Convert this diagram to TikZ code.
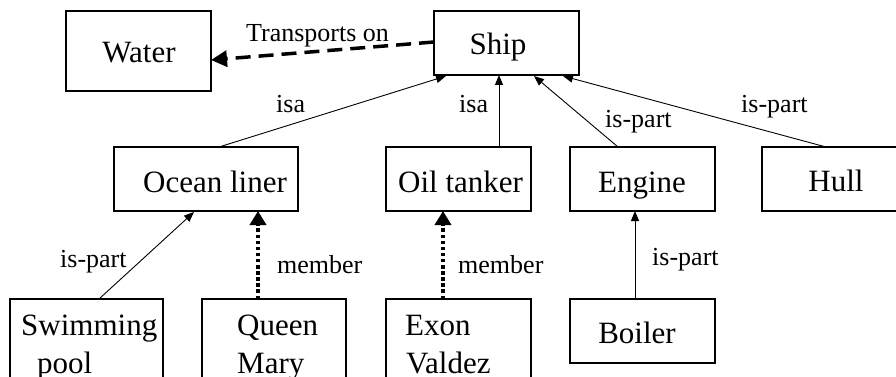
\documentclass[tikz,border=0pt]{standalone}
\usepackage{fontspec}
\setmainfont{Liberation Serif}
\usetikzlibrary{arrows.meta}
\tikzset{
  box/.style={draw, line width=1.2pt, rectangle, inner sep=0pt, outer sep=0pt, minimum width=145pt, minimum height=64pt},
  big/.style={inner sep=0pt, anchor=base west, font=\fontsize{31}{37}\selectfont},
  bigc/.style={inner sep=0pt, anchor=base, font=\fontsize{31}{37}\selectfont},
  lbl/.style={inner sep=0pt, anchor=base west, font=\fontsize{26}{30}\selectfont},
  thinarrow/.style={line width=0.9pt, -{Triangle[length=10pt,width=8pt]}},
  dotarrow/.style={line width=3.5pt, dash pattern=on 3.5pt off 2.6pt, -{Triangle[length=14pt,width=16pt]}},
  dasharrow/.style={line width=3.5pt, dash pattern=on 15pt off 8pt, -{Triangle[length=16pt,width=16pt]}}
}
\begin{document}
\begin{tikzpicture}[x=1pt,y=-1pt]
\useasboundingbox (0,0) rectangle (896,377);
\clip (0,0) rectangle (896,377);
% boxes
\node[box, minimum height=80pt] (water) at (138.5,51) {};
\node[box] (ship) at (506.5,43) {};
\node[box, minimum width=184pt] (ocean) at (206,179) {};
\node[box] (oil) at (458.5,179) {};
\node[box] (engine) at (642.5,179) {};
\node[box] (hull) at (834.5,179) {};
\node[box, minimum width=153pt, minimum height=100pt] (swim) at (86.5,349) {};
\node[box, minimum width=144pt, minimum height=100pt] (queen) at (274,349) {};
\node[box, minimum height=100pt] (exon) at (458.5,349) {};
\node[box] (boiler) at (642.5,331) {};
% texts
\node[bigc] (twater) at (139,63) {Water};
\node[bigc] (tship) at (498,55) {Ship};
\node[big] (tocean) at (143,192) {Ocean liner};
\node[big] (toil) at (398,192) {Oil tanker};
\node[bigc] (tengine) at (642,192) {Engine};
\node[bigc] (thull) at (836,191) {Hull};
\node[big] (tswim) at (21,335) {Swimming};
\node[big] (tpool) at (37,373) {pool};
\node[big] (tqueen) at (237,335) {Queen};
\node[big] (tmary) at (237,373) {Mary};
\node[big] (texon) at (405,335) {Exon};
\node[big] (tvaldez) at (406,373) {Valdez};
\node[bigc] (tboiler) at (637,343) {Boiler};
% connectors
\draw[dasharrow] ([yshift=1pt]ship.west) -- ([yshift=-9pt]water.east);
\draw[thinarrow] ([xshift=13pt]ocean.north) -- ([xshift=-60.5pt,yshift=-1pt]ship.south);
\draw[thinarrow] ([xshift=40.5pt]oil.north) -- ([xshift=-7.5pt]ship.south);
\draw[thinarrow] ([xshift=-24.5pt]engine.north) -- ([xshift=27.5pt,yshift=-1pt]ship.south);
\draw[thinarrow] ([xshift=-8.5pt]hull.north) -- ([xshift=56.5pt,yshift=-1pt]ship.south);
\draw[thinarrow] ([xshift=12.5pt]swim.north) -- ([xshift=-12pt,yshift=-1pt]ocean.south);
\draw[dotarrow] ([xshift=-16pt]queen.north) -- ([xshift=52pt]ocean.south);
\draw[dotarrow] ([xshift=-15.5pt]exon.north) -- ([xshift=-15.5pt]oil.south);
\draw[thinarrow] ([xshift=-7.5pt]boiler.north) -- ([xshift=-7.5pt]engine.south);
% labels
\node[lbl] (ltrans) at (246,42) {Transports on};
\node[lbl] (lisa1) at (276,113) {isa};
\node[lbl] (lisa2) at (459,113) {isa};
\node[lbl] (lpart1) at (605,128) {is-part};
\node[lbl] (lpart2) at (741,113) {is-part};
\node[lbl] (lpart3) at (60,267) {is-part};
\node[lbl] (lmem1) at (277,273) {member};
\node[lbl] (lmem2) at (458,273) {member};
\node[lbl] (lpart4) at (652,265) {is-part};
\end{tikzpicture}
\end{document}
